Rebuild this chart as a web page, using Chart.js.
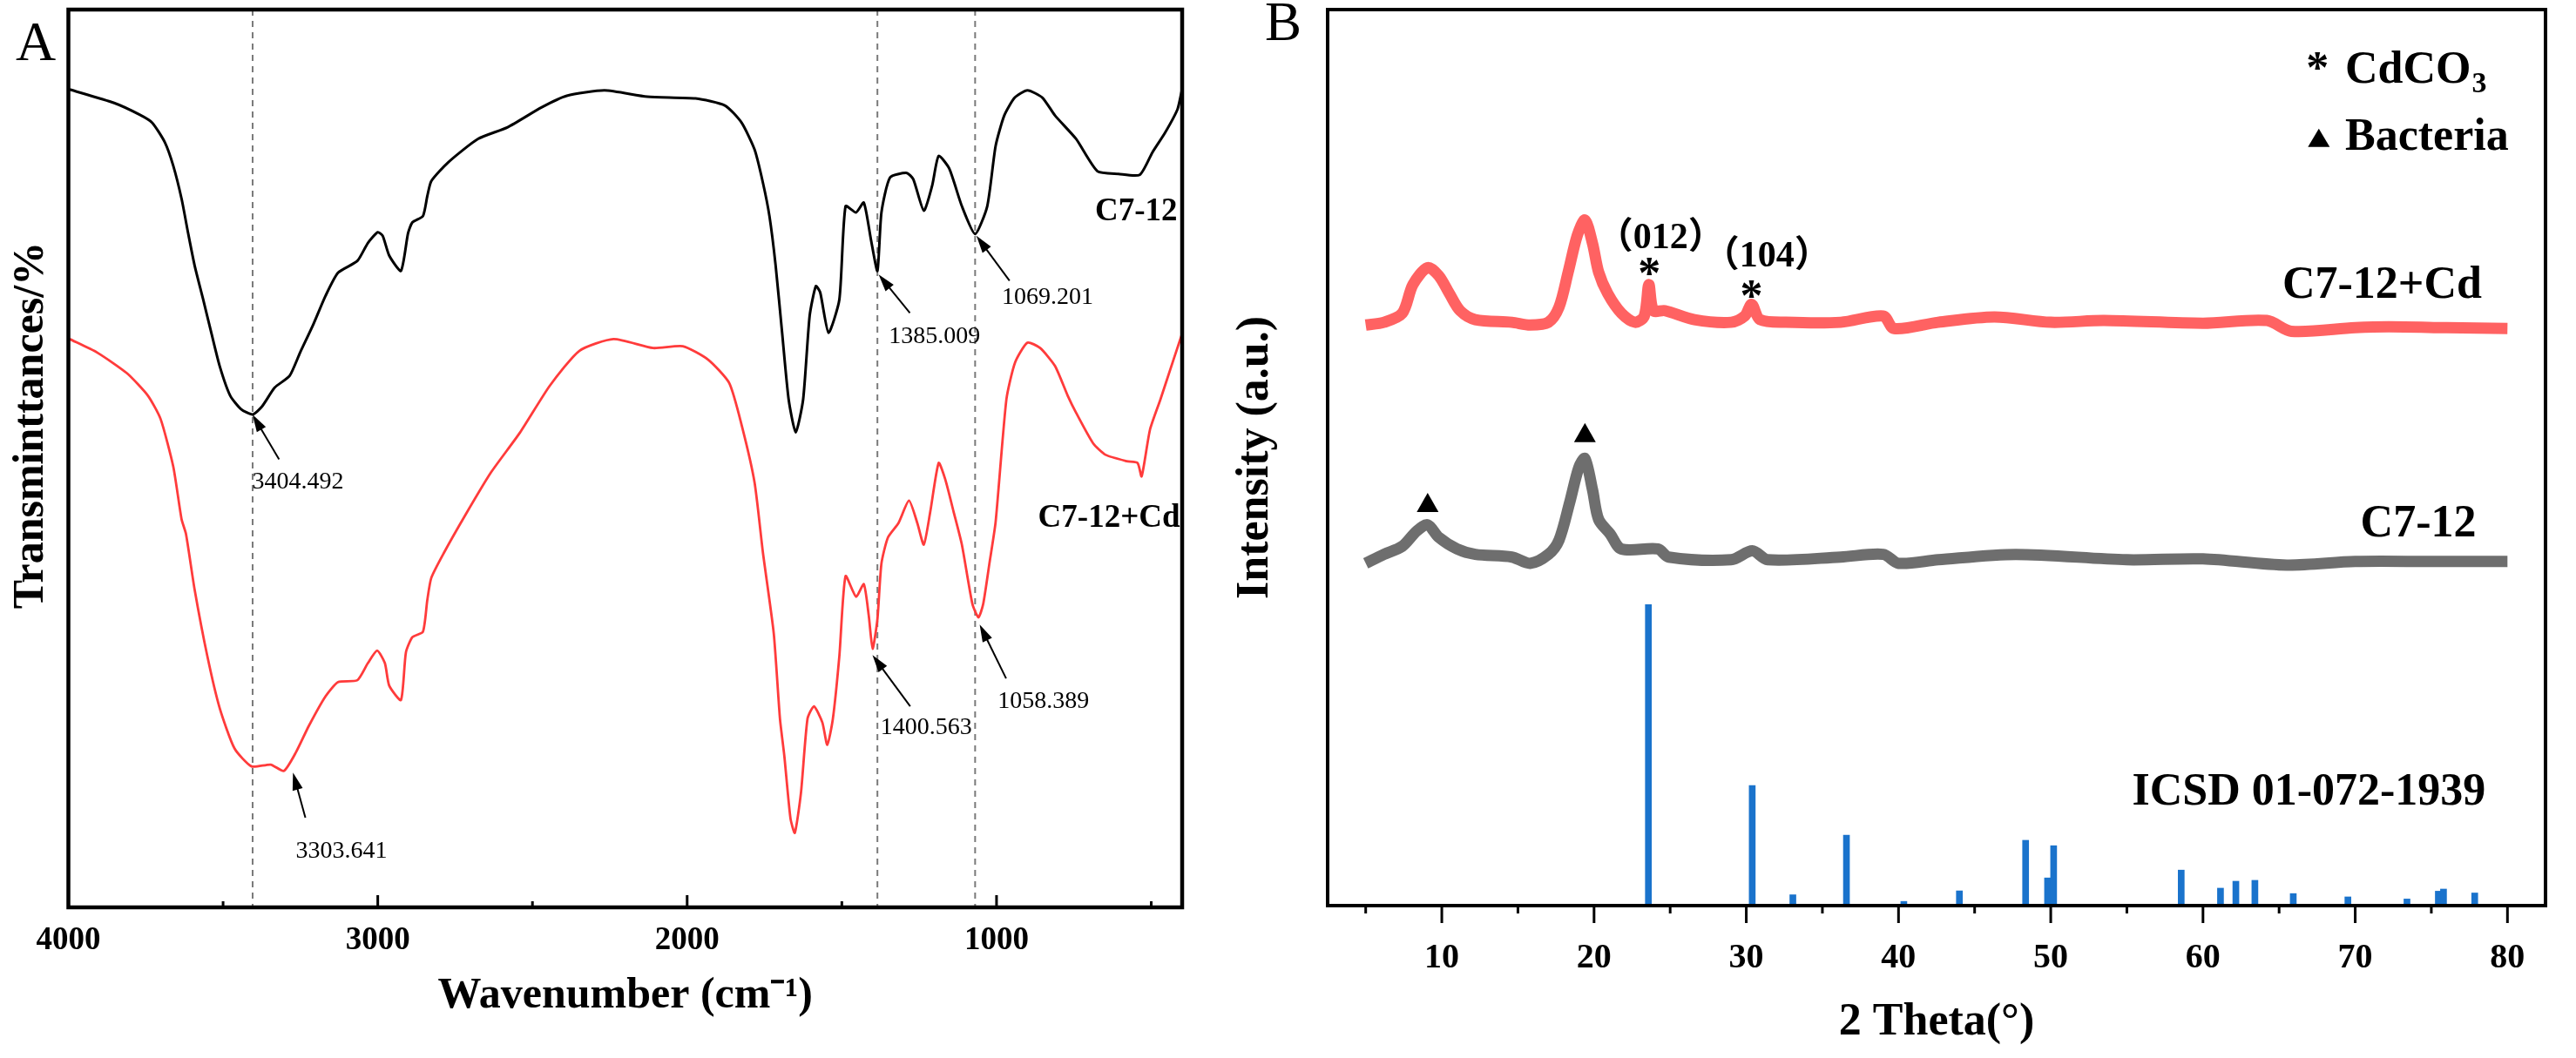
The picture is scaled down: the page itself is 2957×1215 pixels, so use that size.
<!DOCTYPE html>
<html>
<head>
<meta charset="utf-8">
<script src="https://cdn.jsdelivr.net/npm/chart.js@4.4.1/dist/chart.umd.min.js"></script>
<style>
  html, body { margin: 0; padding: 0; background: #fff; }
  #wrap { position: relative; width: 2957px; height: 1215px; overflow: hidden; }
  canvas { position: absolute; top: 0; }
  #ftir { left: 0; }
  #xrd { left: 1400px; }
</style>
</head>
<body>
<div id="wrap">
  <canvas id="ftir" width="1400" height="1215"></canvas>
  <canvas id="xrd" width="1557" height="1215"></canvas>
</div>
<script>
const SERIF = '"Liberation Serif", "Times New Roman", "Noto Sans CJK SC", serif';

// ---- panel A: FTIR, wavenumber (cm-1) vs transmittance (offset, %) ----
const c712Wn = [3996, 3852, 3770, 3729, 3688, 3661, 3634, 3613, 3592, 3565, 3538, 3511, 3477, 3442, 3404.5,
  3374, 3333, 3285, 3251, 3210, 3169, 3128, 3066, 3032, 3000, 2984, 2963, 2925, 2902, 2888, 2854, 2840, 2827,
  2772, 2676, 2580, 2471, 2389, 2267, 2129, 1973, 1877, 1824, 1782, 1755, 1734, 1714, 1693, 1672, 1649, 1625,
  1604, 1584, 1570, 1543, 1508, 1488, 1454, 1429, 1406, 1385, 1372, 1344, 1290, 1269, 1235, 1208, 1187, 1153,
  1112, 1069.2, 1030, 1003, 975, 941, 900, 852, 811, 743, 674, 606, 537, 496, 455, 415, 401];
const c712T = [91.1, 89.6, 88.3, 87.4, 85.2, 82.6, 78.9, 75.1, 71.5, 67.8, 64.0, 60.3, 57.0, 55.5, 54.9,
  55.8, 57.9, 59.2, 61.8, 64.8, 68.1, 70.7, 72.0, 74.0, 75.2, 74.8, 72.6, 70.9, 75.1, 76.3, 77.0, 79.2, 80.9,
  83.0, 85.6, 86.9, 89.1, 90.4, 91.0, 90.3, 90.1, 89.3, 87.4, 84.4, 80.7, 77.0, 71.5, 64.0, 56.6, 52.9, 56.6,
  65.9, 69.2, 68.5, 64.0, 67.7, 78.1, 77.4, 78.5, 74.4, 70.9, 77.4, 81.3, 81.8, 81.1, 77.6, 80.4, 83.7, 82.3,
  78.1, 75.0, 78.1, 84.8, 88.2, 90.2, 91.0, 90.2, 88.2, 85.6, 82.0, 81.7, 81.6, 84.1, 86.3, 88.9, 91.0];

const c712CdWn = [3996, 3907, 3811, 3743, 3702, 3661, 3634, 3620, 3592, 3551, 3511, 3463, 3408, 3346, 3303.6,
  3264, 3223, 3169, 3128, 3066, 3032, 3002, 2977, 2963, 2925, 2909, 2888, 2854, 2840, 2827, 2786, 2717, 2635,
  2540, 2444, 2348, 2238, 2110, 2014, 1932, 1864, 1823, 1782, 1755, 1720, 1700, 1686, 1666, 1652, 1632, 1611,
  1590, 1563, 1547, 1529, 1508, 1488, 1454, 1429, 1413, 1400.6, 1385, 1372, 1351, 1317, 1283, 1256, 1235, 1214,
  1187, 1166, 1139, 1112, 1078, 1058.4, 1043, 1023, 1003, 968, 940, 900, 859, 811, 770, 743, 688, 647, 579,
  544, 531, 504, 470, 428, 401];
const c712CdT = [63.3, 61.8, 59.5, 57.0, 54.4, 49.1, 43.2, 41.6, 35.4, 28.0, 22.2, 17.7, 15.7, 15.9, 15.2,
  17.3, 20.2, 23.5, 25.1, 25.3, 27.2, 28.6, 27.2, 24.7, 23.1, 28.4, 30.1, 30.7, 34.2, 36.7, 39.5, 43.7, 48.4,
  52.9, 58.1, 62.0, 63.3, 62.3, 62.5, 61.0, 58.4, 53.6, 47.3, 39.5, 30.5, 21.0, 16.9, 9.9, 8.3, 12.8, 21.0,
  22.4, 20.6, 18.1, 21.0, 28.0, 36.9, 34.6, 36.0, 32.5, 28.8, 32.1, 38.3, 41.2, 42.8, 45.3, 42.8, 40.4, 44.1,
  49.5, 47.7, 44.1, 40.4, 33.8, 32.3, 33.8, 38.3, 42.9, 56.6, 60.7, 62.9, 62.3, 60.3, 57.0, 55.1, 51.7, 50.4, 49.7,
  49.5, 48.0, 53.2, 56.6, 61.0, 63.8];

const ftirTicks = [4000, 3500, 3000, 2500, 2000, 1500, 1000, 500];
const ftirGuides = [3404.492, 1385.009, 1069.201];
const peakLabels = ['3404.492', '3303.641', '1385.009', '1069.201', '1400.563', '1058.389'];

// ---- panel B: XRD, 2 theta (deg) vs intensity (a.u., offset) ----
const cdDeg = [5, 6.2, 7.4, 8.1, 9.07, 9.8, 10.5, 11.2, 12.2, 14.6, 15.8, 17.0, 17.7, 18.3, 18.9, 19.4, 19.9,
  20.3, 20.9, 21.8, 22.7, 23.3, 23.6, 23.9, 24.65, 26.6, 29.0, 29.9, 30.35, 30.9, 32.6, 36.2, 39.0, 39.7, 42.6,
  46.3, 50, 53.5, 60, 64.2, 65.8, 70, 72.2, 76, 80];
const cdInt = [64.8, 65.1, 66.1, 69.3, 71.2, 70.3, 68.3, 66.4, 65.4, 65.1, 64.8, 65.1, 66.8, 70.7, 74.8, 76.5, 73.9,
  70.7, 68.3, 66.1, 65.1, 65.8, 69.3, 66.4, 66.4, 65.4, 65.1, 65.8, 67.1, 65.4, 65.1, 65.1, 65.8, 64.4, 65.1,
  65.7, 65.1, 65.3, 65.0, 65.3, 64.1, 64.5, 64.6, 64.5, 64.4];

const bactDeg = [5, 6.2, 7.4, 8.35, 9.07, 9.8, 11.0, 12.2, 14.6, 15.8, 17.0, 17.7, 18.4, 19.0, 19.4, 19.9, 20.3,
  21.05, 21.8, 24.2, 24.9, 29.0, 30.4, 31.4, 36.2, 39.0, 40.0, 42.6, 47.7, 55, 60, 65.5, 70, 75, 80];
const bactInt = [38.2, 39.2, 40.1, 41.8, 42.5, 41.1, 39.8, 39.2, 38.9, 38.2, 39.2, 40.8, 45.0, 48.9, 49.9, 46.4, 43.1,
  41.5, 39.8, 39.8, 38.9, 38.6, 39.6, 38.6, 38.9, 39.2, 38.2, 38.6, 39.2, 38.6, 38.7, 38.0, 38.4, 38.4, 38.4];

// reference card, relative intensity (strongest = 100)
const icsdDeg = [23.57, 30.39, 33.06, 36.58, 40.35, 44.0, 48.35, 49.79, 50.19, 58.57, 61.15, 62.16, 63.41,
  65.93, 69.52, 73.4, 75.46, 75.8, 77.85];
const icsdRel = [100, 39.9, 3.6, 23.4, 1.4, 4.9, 21.7, 9.2, 19.9, 11.8, 5.8, 8.1, 8.4, 4.0, 2.9, 2.2, 4.8, 5.5, 4.2];
const stickScale = 0.336;

const xrdTicks = [5, 10, 15, 20, 25, 30, 35, 40, 45, 50, 55, 60, 65, 70, 75, 80];

const pts = (xs, ys) => xs.map((x, i) => ({x: x, y: ys[i]}));
const fixTicks = values => scale => { scale.ticks = values.map(v => ({value: v})); };

// annotation anchors, in data units of each panel
const peakArrows = [
  {tip: [3405, 54.9], tail: [3319, 49.9], text: [3406, 46.7]},
  {tip: [3274, 15.0], tail: [3234, 10.0], text: [3265, 5.5]},
  {tip: [1381, 70.5], tail: [1280, 66.2], text: [1348, 62.9]},
  {tip: [1065, 74.8], tail: [958, 69.8], text: [983, 67.2]},
  {tip: [1401, 28.1], tail: [1279, 22.4], text: [1375, 19.3]},
  {tip: [1054.5, 31.5], tail: [969, 25.5], text: [996, 22.2]}
];

function frame(ctx, a, w) {
  ctx.save();
  ctx.strokeStyle = '#000';
  ctx.lineWidth = w;
  ctx.strokeRect(a.left, a.top, a.right - a.left, a.bottom - a.top);
  ctx.restore();
}

function bottomTicks(ctx, scale, a, major, majorLen, minorLen) {
  ctx.save();
  ctx.strokeStyle = '#000';
  ctx.lineWidth = 3;
  scale.ticks.forEach(t => {
    const px = scale.getPixelForValue(t.value);
    const len = t.value % major === 0 ? majorLen : minorLen;
    ctx.beginPath();
    ctx.moveTo(px, a.bottom);
    ctx.lineTo(px, a.bottom + len);
    ctx.stroke();
  });
  ctx.restore();
}

function arrow(ctx, x0, y0, x1, y1) {
  const ang = Math.atan2(y1 - y0, x1 - x0), hl = 20, hw = 6;
  const c = Math.cos(ang), s = Math.sin(ang);
  ctx.beginPath();
  ctx.moveTo(x0, y0);
  ctx.lineTo(x1 - hl * 0.7 * c, y1 - hl * 0.7 * s);
  ctx.stroke();
  ctx.beginPath();
  ctx.moveTo(x1, y1);
  ctx.lineTo(x1 - hl * c + hw * s, y1 - hl * s - hw * c);
  ctx.lineTo(x1 - hl * c - hw * s, y1 - hl * s + hw * c);
  ctx.closePath();
  ctx.fill();
}

function triangle(ctx, cx, cy, w, h) {
  ctx.beginPath();
  ctx.moveTo(cx, cy - h / 2);
  ctx.lineTo(cx + w / 2, cy + h / 2);
  ctx.lineTo(cx - w / 2, cy + h / 2);
  ctx.closePath();
  ctx.fill();
}

const ftirDecor = {
  id: 'ftirDecor',
  beforeDatasetsDraw(chart) {
    const {ctx, chartArea: a, scales: {x}} = chart;
    ctx.save();
    ctx.strokeStyle = '#7a7a7a';
    ctx.lineWidth = 2;
    ctx.setLineDash([7, 6]);
    ftirGuides.forEach(v => {
      const px = x.getPixelForValue(v);
      ctx.beginPath();
      ctx.moveTo(px, a.top);
      ctx.lineTo(px, a.bottom);
      ctx.stroke();
    });
    ctx.restore();
  },
  afterDraw(chart) {
    const {ctx, chartArea: a, scales: {x, y}} = chart;
    const P = (dx, dy) => [x.getPixelForValue(dx), y.getPixelForValue(dy)];
    frame(ctx, a, 4.5);
    bottomTicks(ctx, x, a, 1000, -14, -7);

    ctx.save();
    ctx.fillStyle = '#000';
    ctx.strokeStyle = '#000';
    ctx.lineWidth = 2;
    ctx.font = '28px ' + SERIF;
    ctx.textAlign = 'left';
    ctx.textBaseline = 'alphabetic';
    peakArrows.forEach((p, i) => {
      const [tx, ty] = P(...p.tip);
      const [sx, sy] = P(...p.tail);
      arrow(ctx, sx, sy, tx, ty);
      const [lx, ly] = P(...p.text);
      ctx.fillText(peakLabels[i], lx, ly);
    });

    ctx.font = 'bold 37px ' + SERIF;
    ctx.textAlign = 'right';
    let [qx, qy] = P(415.6, 76.5);
    ctx.fillText('C7-12', qx, qy);
    [qx, qy] = P(407, 42.4);
    ctx.fillText('C7-12+Cd', qx, qy);

    ctx.font = '64px ' + SERIF;
    ctx.textAlign = 'left';
    ctx.fillText('A', 18, 69);

    ctx.translate(36, (a.top + a.bottom) / 2 - 38);
    ctx.rotate(-Math.PI / 2);
    ctx.font = 'bold 50px ' + SERIF;
    ctx.textAlign = 'center';
    ctx.textBaseline = 'middle';
    ctx.fillText('Transminttances/%', 0, 0);
    ctx.restore();
  }
};

const xrdDecor = {
  id: 'xrdDecor',
  afterDraw(chart) {
    const {ctx, chartArea: a, scales: {x, y}} = chart;
    const P = (dx, dy) => [x.getPixelForValue(dx), y.getPixelForValue(dy)];
    frame(ctx, a, 4);
    bottomTicks(ctx, x, a, 10, 20, 9);

    ctx.save();
    ctx.fillStyle = '#000';
    ctx.textBaseline = 'alphabetic';
    ctx.font = 'bold 52px ' + SERIF;
    ctx.textAlign = 'right';
    let [qx, qy] = P(78.32, 67.8);
    ctx.fillText('C7-12+Cd', qx, qy);
    [qx, qy] = P(77.95, 41.2);
    ctx.fillText('C7-12', qx, qy);
    [qx, qy] = P(78.57, 11.3);
    ctx.fillText('ICSD 01-072-1939', qx, qy);

    // key
    ctx.textAlign = 'left';
    [qx, qy] = P(66.78, 91.8);
    ctx.fillText('*', qx, qy);
    [qx, qy] = P(69.34, 91.8);
    ctx.fillText('CdCO', qx, qy);
    const w = ctx.measureText('CdCO').width;
    ctx.font = 'bold 34px ' + SERIF;
    ctx.fillText('3', qx + w + 1, qy + 11);
    ctx.font = 'bold 52px ' + SERIF;
    [qx, qy] = P(69.34, 84.35);
    ctx.fillText('Bacteria', qx, qy);
    [qx, qy] = P(67.61, 85.7);
    triangle(ctx, qx, qy, 25, 21);

    // peak markers
    [qx, qy] = P(9.07, 45.0);
    triangle(ctx, qx, qy, 25, 22);
    [qx, qy] = P(19.4, 52.8);
    triangle(ctx, qx, qy, 25, 22);
    ctx.textAlign = 'center';
    [qx, qy] = P(23.63, 71.3);
    ctx.fillText('*', qx, qy + 25);
    [qx, qy] = P(30.34, 68.8);
    ctx.fillText('*', qx, qy + 25);
    ctx.font = 'bold 42px ' + SERIF;
    [qx, qy] = P(24.38, 73.4);
    ctx.fillText('（012）', qx, qy);
    [qx, qy] = P(31.35, 71.3);
    ctx.fillText('（104）', qx, qy);

    ctx.font = '63px ' + SERIF;
    ctx.textAlign = 'left';
    ctx.fillText('B', 52, 45.5);
    ctx.restore();
  }
};

const tickFont = size => ({family: SERIF, size: size, weight: 'bold'});

new Chart(document.getElementById('ftir'), {
  type: 'line',
  data: {
    datasets: [
      {label: 'C7-12', data: pts(c712Wn, c712T), borderColor: '#000000', borderWidth: 3},
      {label: 'C7-12+Cd', data: pts(c712CdWn, c712CdT), borderColor: '#ff3b3b', borderWidth: 2.8}
    ]
  },
  options: {
    responsive: false,
    animation: false,
    devicePixelRatio: 1,
    elements: {point: {radius: 0}, line: {tension: 0.2}},
    layout: {padding: {top: 11, right: 43, left: 0, bottom: 0}},
    plugins: {legend: {display: false}, tooltip: {enabled: false}},
    scales: {
      x: {
        type: 'linear', reverse: true, min: 400, max: 4000,
        afterBuildTicks: fixTicks(ftirTicks),
        afterFit: s => { s.height = 173; },
        grid: {display: false}, border: {display: false},
        ticks: {
          autoSkip: false, maxRotation: 0, padding: 8, color: '#000',
          font: tickFont(37),
          callback: v => (v % 1000 === 0 ? String(v) : '')
        },
        title: {
          display: true, text: 'Wavenumber (cm⁻¹)', color: '#000',
          font: tickFont(50), padding: {top: 0, bottom: 41}
        }
      },
      y: {
        min: 0, max: 100,
        afterFit: s => { s.width = 78.5; },
        grid: {display: false}, border: {display: false},
        ticks: {display: false}
      }
    }
  },
  plugins: [ftirDecor]
});

new Chart(document.getElementById('xrd'), {
  type: 'line',
  data: {
    datasets: [
      {type: 'bar', label: 'ICSD 01-072-1939', data: pts(icsdDeg, icsdRel.map(v => v * stickScale)),
        backgroundColor: '#1a73cc', barThickness: 7, grouped: false},
      {label: 'C7-12', data: pts(bactDeg, bactInt), borderColor: 'rgba(74,74,74,0.8)', borderWidth: 13},
      {label: 'C7-12+Cd', data: pts(cdDeg, cdInt), borderColor: 'rgba(255,59,59,0.8)', borderWidth: 13}
    ]
  },
  options: {
    responsive: false,
    animation: false,
    devicePixelRatio: 1,
    elements: {point: {radius: 0}, line: {tension: 0.3}},
    layout: {padding: {top: 11, right: 35, left: 0, bottom: 0}},
    plugins: {legend: {display: false}, tooltip: {enabled: false}},
    scales: {
      x: {
        type: 'linear', min: 5, max: 80,
        afterBuildTicks: fixTicks(xrdTicks),
        afterFit: s => { s.height = 175; },
        grid: {display: false}, border: {display: false},
        ticks: {
          autoSkip: false, maxRotation: 0, padding: 29, color: '#000',
          font: tickFont(40),
          callback: v => (v % 10 === 0 ? String(v) : '')
        },
        title: {
          display: true, text: '2 Theta(°)', color: '#000',
          font: tickFont(52), padding: {top: 0, bottom: 9}
        }
      },
      y: {
        min: 0, max: 100,
        afterFit: s => { s.width = 124; },
        grid: {display: false}, border: {display: false},
        ticks: {display: false},
        title: {
          display: true, text: 'Intensity (a.u.)', color: '#000',
          font: tickFont(52), padding: {top: 10, bottom: 0}
        }
      }
    }
  },
  plugins: [xrdDecor]
});
</script>
</body>
</html>
